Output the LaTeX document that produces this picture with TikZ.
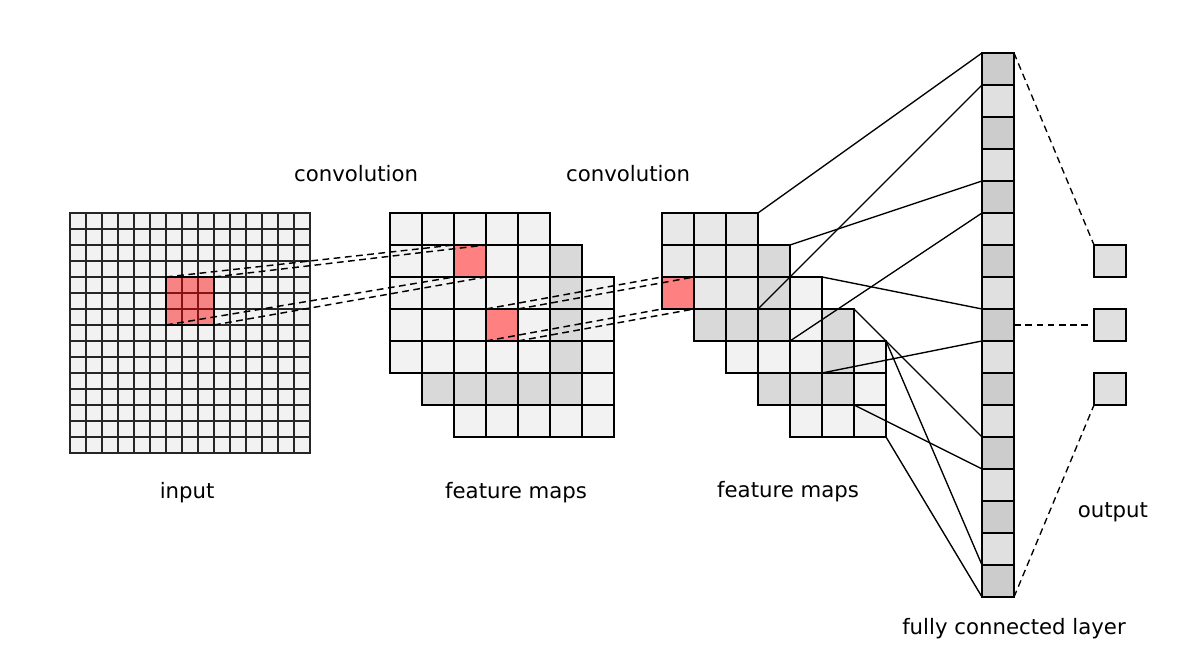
\documentclass[tikz,border=0pt]{standalone}
\usepackage{fontspec}
\setmainfont{DejaVu Sans}
\usetikzlibrary{calc}

\definecolor{cellbg}{RGB}{242,242,242}
\definecolor{cellmid}{RGB}{232,232,232}
\definecolor{celldark}{RGB}{217,217,217}
\definecolor{fcdark}{RGB}{204,204,204}
\definecolor{fclight}{RGB}{224,224,224}
\definecolor{patch}{RGB}{255,128,128}

\newcommand{\fmap}[5] % x, y of lower left corner, cells per side, cell size, fill
{
	% background
	\filldraw[fill=#5] (#1,#2) rectangle ++(#3*#4,#3*#4);
	% cell lines
	\draw[shift={(#1,#2)}, step=#4] (0,0) grid (#3*#4,#3*#4);
}

\begin{document}
\begin{tikzpicture}[x=0.5cm, y=0.5cm, line width=0.6pt,
	unit/.style={draw, minimum width=0.5cm, minimum height=0.5cm, inner sep=0pt, outer sep=0pt, anchor=north west},
	patchcell/.style={draw, fill=patch, inner sep=0pt, outer sep=0pt, anchor=south west},
	txt/.style={font=\fontsize{9.45}{11}\selectfont}]
	\useasboundingbox (-2.1875,-6.531) rectangle (34.6875,14.156);

	% input: 15 x 15 pixels
	\begin{scope}[line width=1pt, draw=black!85]
		\fmap{0}{0}{15}{0.5}{cellbg}
	\end{scope}
	\node[patchcell, fill=red, fill opacity=0.45, minimum size=0.75cm] (rf0) at (3,4) {};

	% first feature maps, back to front
	\fmap{12}{0.5}{5}{1}{cellbg}
	\fmap{11}{1.5}{5}{1}{celldark}
	\fmap{10}{2.5}{5}{1}{cellbg}
	\node[patchcell, minimum size=0.5cm] (rf1) at (12,5.5) {};
	\node[patchcell, minimum size=0.5cm] (rf2) at (13,3.5) {};

	% second feature maps, back to front
	\foreach \k/\c in {4/cellbg,3/celldark,2/cellbg,1/celldark,0/cellmid}{
		\fmap{18.5+\k}{4.5-\k}{3}{1}{\c}
		\coordinate (fm\k-ne) at (21.5+\k,7.5-\k);
		\coordinate (fm\k-se) at (21.5+\k,4.5-\k);
	}
	\node[patchcell, minimum size=0.5cm] (rf3) at (18.5,4.5) {};

	% fully connected layer: 17 units
	\foreach \i in {0,...,16}{
		\ifodd\i\relax \def\fccol{fclight}\else \def\fccol{fcdark}\fi
		\node[unit, fill=\fccol] (fc\i) at (28.5,12.5-\i) {};
	}

	% output units
	\foreach \j/\y in {0/6.5,1/4.5,2/2.5}
		\node[unit, fill=fclight] (out\j) at (32,\y) {};

	% feature maps to fully connected layer
	\foreach \k/\a/\b in {0/0/1,1/4/5,2/8/9,3/12/13}{
		\draw (fm\k-ne) -- (fc\a.north west);
		\draw (fm\k-se) -- (fc\b.north west);
	}
	\draw (fm4-ne) -- (fc16.north west);
	\draw (fm4-se) -- (fc16.south west);

	% fully connected layer to output
	\draw[dash pattern=on 3pt off 2pt] (fc0.north east) -- (out0.north west);
	\draw[dash pattern=on 3pt off 2pt] (fc8.east) -- (out1.west);
	\draw[dash pattern=on 3pt off 2pt] (fc16.south east) -- (out2.south west);

	% receptive fields
	\begin{scope}[densely dashed, line width=0.65pt]
		\draw (rf0.north west) -- (rf1.north west);
		\draw (rf0.north east) -- (rf1.north east);
		\draw (rf0.south west) -- (rf1.south west);
		\draw (rf0.south east) -- (rf1.south east);
		\draw (rf2.north west) -- (rf3.north west);
		\draw (rf2.north east) -- (rf3.north east);
		\draw (rf2.south west) -- (rf3.south west);
		\draw (rf2.south east) -- (rf3.south east);
	\end{scope}

	% labels
	\node[txt] (conv1) at (8.94,8.72) {convolution};
	\node[txt] (conv2) at (17.44,8.72) {convolution};
	\node[txt] (lin) at (3.66,-1.25) {input};
	\node[txt] (lfm1) at (13.94,-1.25) {feature maps};
	\node[txt] (lfm2) at (22.44,-1.22) {feature maps};
	\node[txt] (lout) at (32.59,-1.84) {output};
	\node[txt] (lfc) at (29.5,-5.5) {fully connected layer};
\end{tikzpicture}
\end{document}
